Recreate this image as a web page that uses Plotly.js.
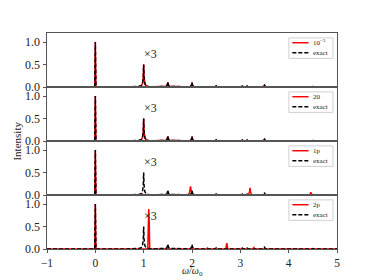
<!DOCTYPE html>
<html>
<head>
<meta charset="utf-8">
<script src="https://cdn.plot.ly/plotly-3.0.1.min.js"></script>
<style>html,body{margin:0;padding:0;background:#fff;}#chart{width:374px;height:280px;}</style>
</head>
<body>
<div id="chart"></div>
<script>
// ---- data ----
var panelLabels = ["10<sup>\u22123</sup>", "20", "1p", "2p"];
var exactLabel = "exact";

var exactX = [-1, -0.012, 0, 0.012, 0.6, 0.8, 0.9, 0.95, 0.975, 0.992, 1.0, 1.008, 1.025, 1.05, 1.1, 1.2, 1.4, 1.47, 1.49, 1.5, 1.51, 1.53, 1.96, 1.99, 2.0, 2.01, 2.04, 2.48, 2.5, 2.52, 3.02, 3.04, 3.06, 3.12, 3.14, 3.16, 3.46, 3.49, 3.5, 3.51, 3.54, 4.48, 4.5, 4.52, 5];
var exactY = [0, 0, 1.0, 0, 0, 0.005, 0.012, 0.03, 0.07, 0.22, 0.5, 0.22, 0.07, 0.03, 0.012, 0.005, 0, 0.015, 0.05, 0.11, 0.05, 0.015, 0, 0.04, 0.1, 0.04, 0, 0, 0.025, 0, 0, 0.02, 0, 0, 0.02, 0, 0, 0.02, 0.04, 0.02, 0, 0, 0.01, 0, 0];

var red1Y = [0, 0, 1.0, 0, 0, 0.005, 0.012, 0.03, 0.07, 0.22, 0.5, 0.22, 0.07, 0.03, 0.012, 0.005, 0, 0.015, 0.05, 0.11, 0.05, 0.015, 0, 0.04, 0.1, 0.04, 0, 0, 0.025, 0, 0, 0.02, 0, 0, 0.02, 0, 0, 0.02, 0.04, 0.02, 0, 0, 0.01, 0, 0];
var red2Y = [0, 0, 1.0, 0, 0, 0.005, 0.012, 0.03, 0.07, 0.22, 0.5, 0.22, 0.07, 0.03, 0.012, 0.005, 0, 0.015, 0.05, 0.11, 0.05, 0.015, 0, 0.04, 0.1, 0.04, 0, 0, 0.025, 0, 0, 0.02, 0, 0, 0.02, 0, 0, 0.02, 0.04, 0.02, 0, 0, 0.01, 0, 0];

var red3X = [-1, -0.012, 0, 0.012, 0.95, 0.97, 0.99, 1.9, 1.945, 1.96, 1.97, 1.98, 1.995, 2.02, 3.17, 3.19, 3.2, 3.21, 3.23, 4.43, 4.45, 4.46, 4.47, 4.49, 5];
var red3Y = [0, 0, 1.0, 0, 0, 0.02, 0, 0, 0.03, 0.12, 0.19, 0.12, 0.03, 0, 0, 0.08, 0.16, 0.08, 0, 0, 0.03, 0.06, 0.03, 0, 0];

var red4X = [-1, -0.012, 0, 0.012, 1.085, 1.095, 1.105, 1.115, 1.125, 2.3, 2.32, 2.34, 2.7, 2.71, 2.72, 2.73, 2.74, 3.26, 3.28, 3.3, 3.82, 3.84, 3.86, 5];
var red4Y = [0, 0, 1.0, 0, 0, 0.6, 0.89, 0.6, 0, 0, 0.02, 0, 0, 0.07, 0.13, 0.07, 0, 0, 0.03, 0, 0, 0.01, 0, 0];

var redXs = [exactX, exactX, red3X, red4X];
var redYs = [red1Y, red2Y, red3Y, red4Y];

var xTickVals = [-1, 0, 1, 2, 3, 4, 5];
var xTickText = ["\u22121", "0", "1", "2", "3", "4", "5"];
var yTickVals = [0, 0.5, 1.0];
var yTickText = ["0.0", "0.5", "1.0"];
var annotX = 1.15, annotY = 0.74, annotText = "\u00d73";

// ---- build ----
var FONT = "Liberation Serif, DejaVu Serif, serif";
var spine = "#555";
var traces = [];
var layout = {
  width: 374, height: 280,
  margin: {l: 47, r: 37, t: 33, b: 31},
  paper_bgcolor: "#fff", plot_bgcolor: "#fff",
  showlegend: false,
  font: {family: FONT, size: 12, color: "#222"},
  shapes: [], annotations: []
};

for (var k = 1; k <= 4; k++) {
  var xa = "x" + k, ya = "y" + k;
  traces.push({x: redXs[k-1], y: redYs[k-1], xaxis: xa, yaxis: ya, type: "scatter", mode: "lines",
    line: {color: "#ff0000", width: 1.5}, name: panelLabels[k-1], hoverinfo: "skip"});
  traces.push({x: exactX, y: exactY, xaxis: xa, yaxis: ya, type: "scatter", mode: "lines",
    line: {color: "#000", width: 1.5, dash: "4px,2px"}, name: exactLabel, hoverinfo: "skip"});

  var lo = 1 - k * 0.25, hi = 1 - (k - 1) * 0.25;
  var xaxisObj = {
    domain: [0, 1], anchor: ya, range: [-1, 5], showgrid: false, zeroline: false,
    showline: true, mirror: true, linecolor: spine, linewidth: 1,
    tickvals: xTickVals, ticktext: xTickText,
    ticks: k === 4 ? "outside" : "", ticklen: 3, tickcolor: spine,
    showticklabels: k === 4, tickfont: {family: FONT, size: 11.5, color: "#222"}
  };
  if (k !== 1) xaxisObj.matches = "x";
  layout["xaxis" + k] = xaxisObj;
  layout["yaxis" + k] = {
    domain: [lo, hi], anchor: xa, range: [0, 1.2], showgrid: false, zeroline: false,
    showline: true, mirror: true, linecolor: spine, linewidth: 1,
    tickvals: yTickVals, ticktext: yTickText, ticks: "outside", ticklen: 3.5, tickcolor: spine,
    tickfont: {family: FONT, size: 12, color: "#222"}
  };

  // "x3" note
  layout.annotations.push({xref: xa, yref: ya, x: annotX, y: annotY, text: annotText, showarrow: false,
    font: {family: FONT, size: 12, color: "#222"}});

  // hand-made legend
  var xd = xa + " domain", yd = ya + " domain";
  layout.shapes.push({type: "rect", xref: xd, yref: yd, x0: 0.834, x1: 0.986, y0: 0.53, y1: 0.91,
    line: {color: "#d0d0d0", width: 1}, fillcolor: "rgba(255,255,255,0.85)", layer: "above"});
  layout.shapes.push({type: "line", xref: xd, yref: yd, x0: 0.846, x1: 0.902, y0: 0.82, y1: 0.82,
    line: {color: "#ff0000", width: 1.5}, layer: "above"});
  layout.shapes.push({type: "line", xref: xd, yref: yd, x0: 0.846, x1: 0.902, y0: 0.635, y1: 0.635,
    line: {color: "#000", width: 1.5, dash: "4px,2px"}, layer: "above"});
  layout.annotations.push({xref: xd, yref: yd, x: 0.912, y: 0.82, xanchor: "left", yanchor: "middle",
    text: panelLabels[k-1], showarrow: false, font: {family: FONT, size: 7, color: "#222"}});
  layout.annotations.push({xref: xd, yref: yd, x: 0.912, y: 0.635, xanchor: "left", yanchor: "middle",
    text: exactLabel, showarrow: false, font: {family: FONT, size: 7, color: "#222"}});
}

// axis titles
layout.annotations.push({xref: "paper", yref: "paper", x: -0.105, y: 0.5, xanchor: "center", yanchor: "middle",
  text: "Intensity", textangle: -90, showarrow: false, font: {family: FONT, size: 11, color: "#222"}});
layout.annotations.push({xref: "paper", yref: "paper", x: 0.5, y: -0.142, xanchor: "center", yanchor: "bottom",
  text: "<i>\u03c9</i>/<i>\u03c9</i><sub>0</sub>", showarrow: false, font: {family: FONT, size: 10, color: "#222"}});

Plotly.newPlot("chart", traces, layout, {staticPlot: true, displayModeBar: false});
</script>
</body>
</html>
